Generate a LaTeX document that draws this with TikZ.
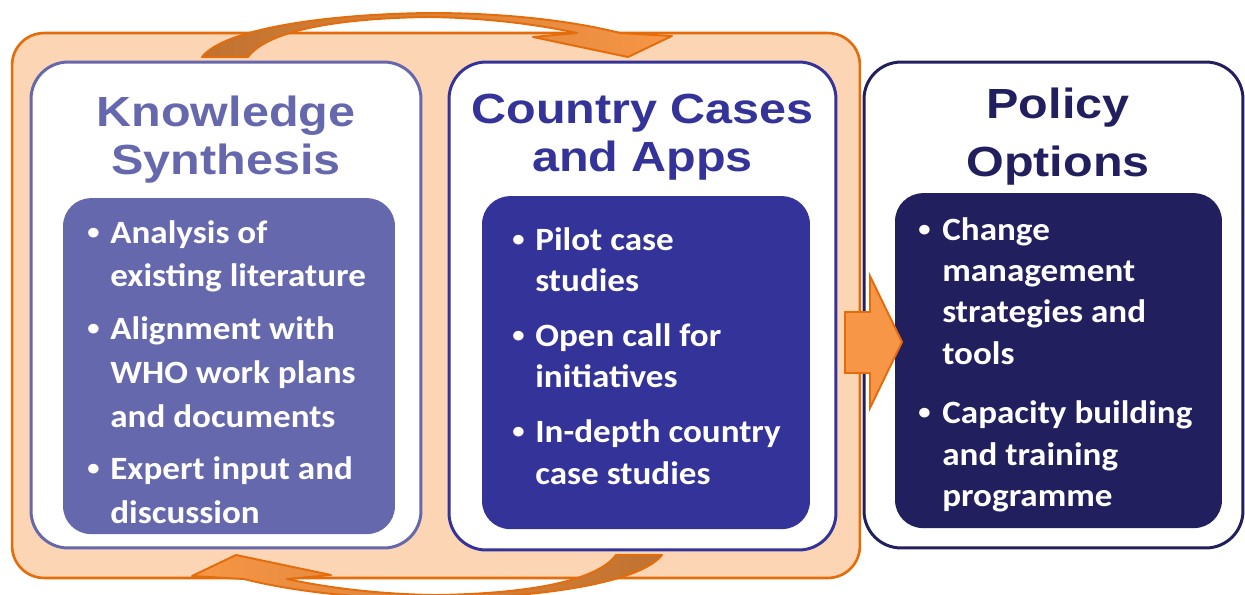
\documentclass[tikz,border=0pt]{standalone}
\usepackage{fontspec}
\newfontfamily\headfont[FakeStretch=1.15]{Liberation Sans}
\newfontfamily\listfont[FakeStretch=1.08]{Carlito}
\usetikzlibrary{positioning}

\definecolor{peach}{HTML}{FCD5B5}
\definecolor{orline}{HTML}{E46C0A}
\definecolor{orfill}{HTML}{F79646}
\definecolor{orshade}{HTML}{C0722F}
\definecolor{lavender}{HTML}{6668AD}
\definecolor{royal}{HTML}{333399}
\definecolor{navy}{HTML}{221F5F}

\newcommand{\dotmark}{\raisebox{0.12em}{\scalebox{0.7}{\textbullet}}}

\tikzset{
  frame/.style={draw=orline, fill=peach, line width=1.5pt, rounded corners=0.64cm,
    minimum width=16.96cm, minimum height=10.9cm},
  card/.style={draw=#1, fill=white, line width=1.7pt, rounded corners=0.74cm},
  body/.style={fill=#1, rounded corners=0.56cm},
  head/.style={text=#1, inner sep=0pt, anchor=base,
    font=\headfont\bfseries\fontsize{24}{27.8}\selectfont},
  points/.style={text=white, inner sep=0pt, anchor=base west,
    font=\listfont\bfseries\fontsize{18.5}{#1}\selectfont},
  turn/.style={draw=orline, line width=1.1pt, line join=round},
  push/.style={draw=orline, fill=orfill, line width=1.1pt},
}

\begin{document}
\begin{tikzpicture}[x=0.02cm, y=-0.02cm]

  \useasboundingbox (0,0) rectangle (1245,595);

  % loop frame
  \node[frame] (loop) at (436,305.5) {}; %

  % turning arrows
  \foreach \ang/\lc/\rc in {0/orshade/orfill, 180/orfill/orshade}
    \draw[turn, rotate around={\ang:(432,306)}, left color=\lc, right color=\rc]
      (202,57) .. controls (225,28) and (330,14) .. (430,13)
      .. controls (520,13) and (585,24) .. (620,33) -- (672,36) -- (628,57)
      -- (533,37) -- (577,33) .. controls (540,25) and (490,18) .. (430,17)
      .. controls (340,18) and (268,30) .. (248,57) -- cycle; %

  % Knowledge synthesis
  \node[card=lavender, minimum width=7.8cm, minimum height=9.72cm] (ks) at (226,305) {}; %
  \node[body=lavender, minimum width=6.64cm, minimum height=6.72cm,
    above=0.3cm of ks.south, xshift=0.06cm] (ksb) {}; %
  \node[head=lavender] (kst) at (226,126)
    {\begin{tabular}[t]{@{}c@{}}Knowledge\\Synthesis\end{tabular}}; %
  \node[points=25pt] (ksl) at (87,243) {\begin{tabular}[t]{@{}p{0.46cm}@{}l@{}}
    \dotmark & Analysis of\\ & existing literature\\[4.8pt]
    \dotmark & Alignment with\\ & WHO work plans\\ & and documents\\[4.8pt]
    \dotmark & Expert input and\\ & discussion
  \end{tabular}}; %

  % Country cases
  \node[card=royal, minimum width=7.74cm, minimum height=9.76cm] (cc) at (642.5,306) {}; %
  \node[body=royal, minimum width=6.56cm, minimum height=6.66cm,
    above=0.44cm of cc.south, xshift=0.07cm] (ccb) {}; %
  \node[head=royal] (cct) at (642.5,123)
    {\begin{tabular}[t]{@{}c@{}}Country Cases\\and Apps\end{tabular}}; %
  \node[points=23.8pt] (ccl) at (512,250) {\begin{tabular}[t]{@{}p{0.46cm}@{}l@{}}
    \dotmark & Pilot case\\ & studies\\[7.1pt]
    \dotmark & Open call for\\ & initiatives\\[7.1pt]
    \dotmark & In-depth country\\ & case studies
  \end{tabular}}; %

  % Policy options
  \node[card=navy, minimum width=7.58cm, minimum height=9.72cm] (po) at (1053.5,305) {}; %
  \node[body=navy, minimum width=6.54cm, minimum height=6.7cm,
    above=0.42cm of po.south, xshift=0.1cm] (pob) {}; %
  \node[head=navy] (pot) at (1058,118)
    {\begin{tabular}[t]{@{}c@{}}Policy\\[5.7pt]Options\end{tabular}}; %
  \node[points=23.6pt] (pol) at (918,240) {\begin{tabular}[t]{@{}p{0.48cm}@{}l@{}}
    \dotmark & Change\\ & management\\ & strategies and\\ & tools\\[10.2pt]
    \dotmark & Capacity building\\ & and training\\ & programme
  \end{tabular}}; %

  % step to policy
  \draw[push] (845,312) -- (870,312) -- (870,276) -- (902,342) -- (870,408)
    -- (870,373) -- (845,373) -- cycle; %

\end{tikzpicture}
\end{document}
